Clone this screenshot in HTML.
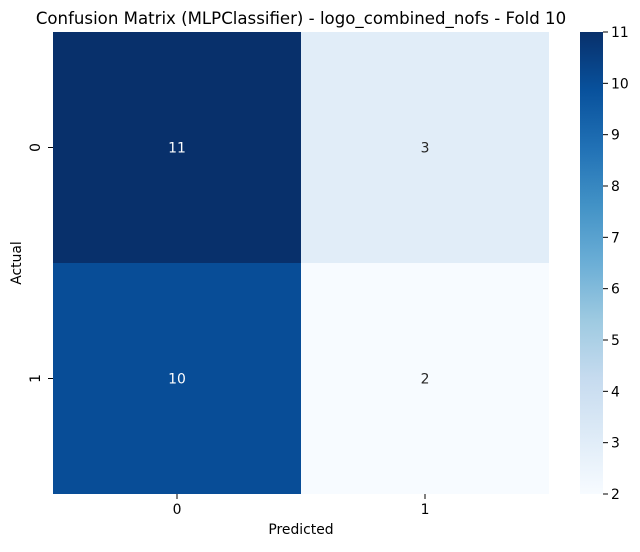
<!DOCTYPE html>
<html><head><meta charset="utf-8"><style>
body{margin:0;background:#fff;}
svg text{font-family:"DejaVu Sans","Liberation Sans",sans-serif;}
</style></head><body>
<svg id="chart" width="640" height="547">
<defs><linearGradient id="blues" x1="0" y1="1" x2="0" y2="0">
<stop offset="0" stop-color="#f7fbff"/><stop offset="0.125" stop-color="#deebf7"/>
<stop offset="0.25" stop-color="#c6dbef"/><stop offset="0.375" stop-color="#9ecae1"/>
<stop offset="0.5" stop-color="#6baed6"/><stop offset="0.625" stop-color="#4292c6"/>
<stop offset="0.75" stop-color="#2171b5"/><stop offset="0.875" stop-color="#08519c"/>
<stop offset="1" stop-color="#08306b"/></linearGradient></defs>
<text x="301" y="24" font-size="16.6" text-anchor="middle">Confusion Matrix (MLPClassifier) - logo_combined_nofs - Fold 10</text>
<g id="cells"></g>
<rect x="580" y="32" width="23" height="462" fill="url(#blues)"/>
<g id="cbticks"></g>
<text x="301" y="534" font-size="13.9" text-anchor="middle">Predicted</text>
<text x="21" y="263" font-size="13.9" text-anchor="middle" transform="rotate(-90 21 263)">Actual</text>
</svg>
<script>
const classes=["0","1"];
const values=[[11,3],[10,2]];
const cbTicks=[2,3,4,5,6,7,8,9,10,11];
const NS="http://www.w3.org/2000/svg";
const L=53,R=549,T=32,B=494,vmin=2,vmax=11;
const stops=[[0,[247,251,255]],[0.125,[222,235,247]],[0.25,[198,219,239]],[0.375,[158,202,225]],[0.5,[107,174,214]],[0.625,[66,146,198]],[0.75,[33,113,181]],[0.875,[8,81,156]],[1,[8,48,107]]];
function color(v){const t=(v-vmin)/(vmax-vmin);for(let i=1;i<stops.length;i++){if(t<=stops[i][0]){const a=stops[i-1],b=stops[i],f=(t-a[0])/(b[0]-a[0]);return 'rgb('+a[1].map((c,k)=>Math.round(c+(b[1][k]-c)*f)).join(',')+')';}}return 'rgb(8,48,107)';}
function mk(tag,attrs,parent,text){const e=document.createElementNS(NS,tag);for(const k in attrs)e.setAttribute(k,attrs[k]);if(text!==undefined)e.textContent=text;parent.appendChild(e);return e;}
const svg=document.getElementById('chart'),g=document.getElementById('cells'),cb=document.getElementById('cbticks');
const n=classes.length,cw=(R-L)/n,ch=(B-T)/n;
values.forEach((row,i)=>row.forEach((v,j)=>{
 const r=mk('rect',{x:L+j*cw,y:T+i*ch,width:cw,height:ch,fill:color(v)},g);
 
 
 const t=mk('text',{x:L+(j+0.5)*cw,y:T+(i+0.5)*ch+5,'font-size':13.9,'text-anchor':'middle',fill:(v-vmin)/(vmax-vmin)>0.5?'#fff':'#262626'},g,String(v));
 
 
}));
classes.forEach((c,k)=>{
 const x=L+(k+0.5)*cw;
 mk('line',{x1:x,x2:x,y1:B,y2:B+5,stroke:'#000'},svg);
 const t=mk('text',{x:x,y:B+20,'font-size':13.9,'text-anchor':'middle'},svg,c);
 
 
 const y=T+(k+0.5)*ch;
 mk('line',{x1:L-5,x2:L,y1:y,y2:y,stroke:'#000'},svg);
 const t2=mk('text',{x:40,y:y,'font-size':13.9,'text-anchor':'middle',transform:'rotate(-90 40 '+y+')'},svg,c);
 
 
});
cbTicks.forEach(v=>{
 const y=B-(v-vmin)/(vmax-vmin)*(B-T);
 mk('line',{x1:603,x2:608,y1:y,y2:y,stroke:'#000'},cb);
 const t=mk('text',{x:611,y:y+5,'font-size':13.9},cb,String(v));
 
 
});
</script>
</body></html>
